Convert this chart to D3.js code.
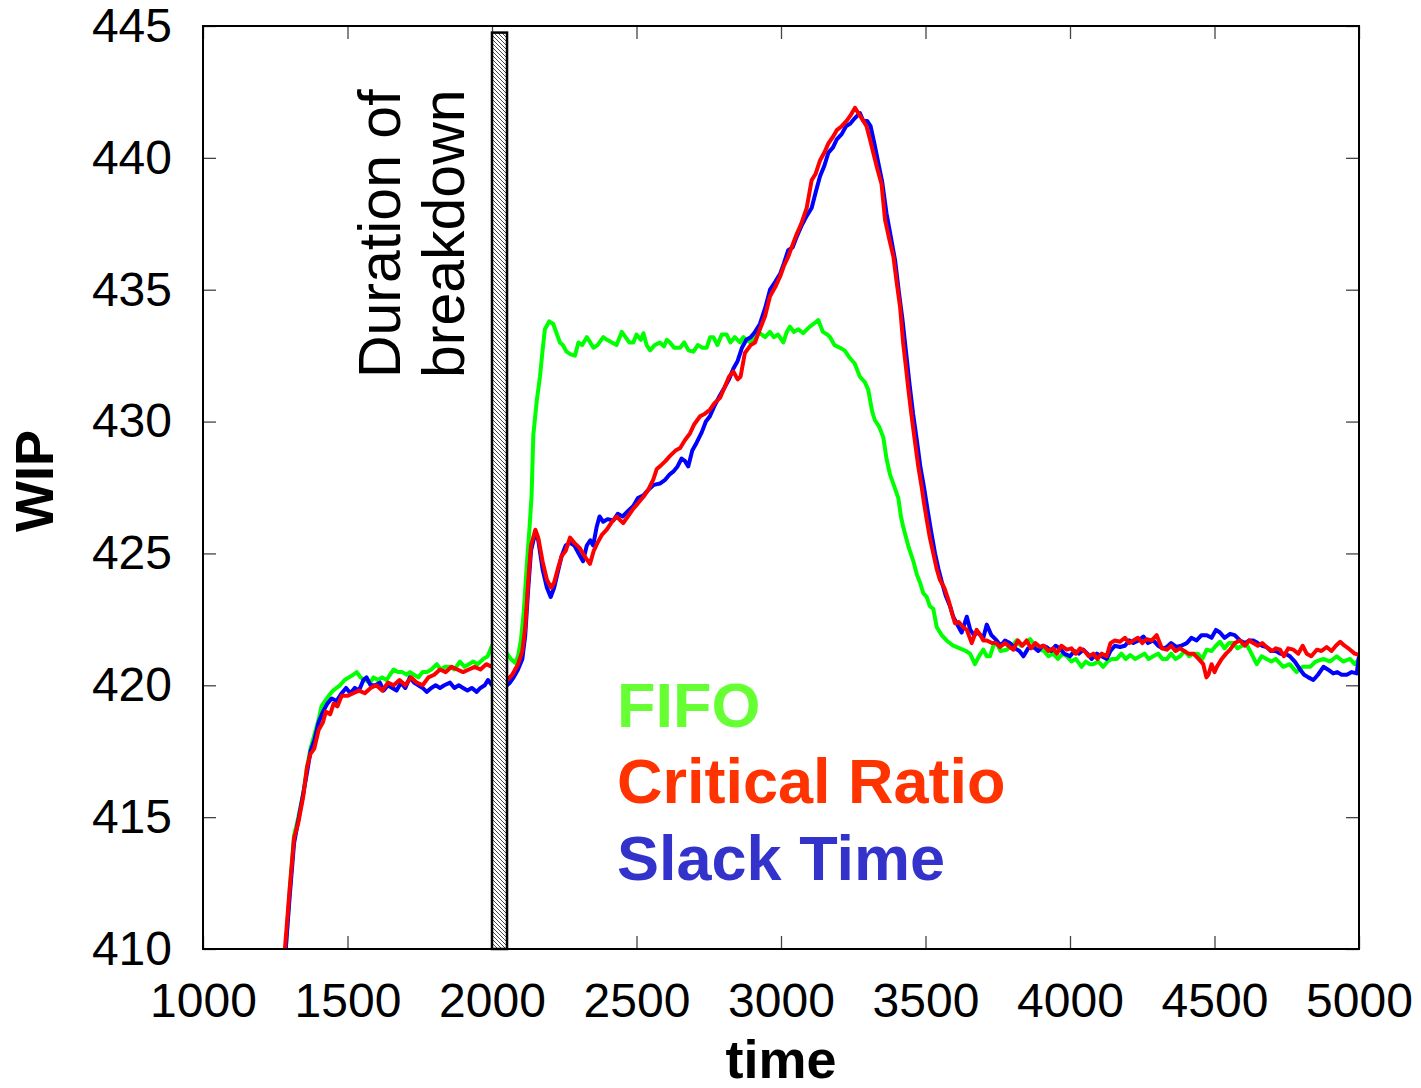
<!DOCTYPE html>
<head>
  <meta charset="utf-8">
  <title>WIP over time</title>
  <script src="https://d3js.org/d3.v7.min.js"></script>
  <style>
    body { margin: 0; background: #fff; }
    text { font-family: "Liberation Sans", Arial, Helvetica, sans-serif; }
  </style>
</head>
<body>
<div id="chart"></div>
<script>
// axis ticks
var xTicks = [1000, 1500, 2000, 2500, 3000, 3500, 4000, 4500, 5000];
var yTicks = [410, 415, 420, 425, 430, 435, 440, 445];

// breakdown interval
var breakdown = [2000, 2052];
var breakdownTop = 444.75;

// series, [time, WIP]
var fifo = [
  [1285,409.8],[1300,412.2],[1315,414.3],[1330,415.0],[1347,415.9],[1360,416.9],[1372,417.6],[1385,418.1],
  [1400,418.7],[1410,419.2],[1422,419.4],[1435,419.6],[1450,419.8],[1462,419.9],[1474,420.0],[1490,420.2],
  [1505,420.3],[1520,420.4],[1532,420.5],[1545,420.3],[1560,420.2],[1578,420.1],[1590,420.3],[1605,420.2],
  [1620,420.3],[1635,420.2],[1647,420.4],[1660,420.6],[1675,420.5],[1690,420.5],[1705,420.4],[1716,420.5],
  [1730,420.4],[1745,420.3],[1760,420.5],[1775,420.5],[1790,420.6],[1809,420.8],[1822,420.6],[1838,420.7],
  [1855,420.7],[1870,420.6],[1889,420.9],[1905,420.7],[1920,420.8],[1935,420.9],[1950,420.8],[1970,421.0],
  [1985,421.1],[2000,421.5],[2052,421.2],[2065,421.0],[2080,420.85],[2090,421.1],[2100,421.7],[2110,422.8],
  [2120,424.5],[2130,426.0],[2137,427.2],[2143,429.5],[2155,430.8],[2166,431.7],[2175,432.7],[2183,433.5],
  [2198,433.8],[2212,433.7],[2225,433.3],[2235,433.0],[2245,432.9],[2258,432.65],[2272,432.55],[2287,432.5],
  [2299,433.0],[2312,432.9],[2328,433.2],[2340,433.0],[2351,432.8],[2365,432.9],[2385,433.2],[2398,433.1],
  [2415,433.0],[2431,432.9],[2449,433.4],[2462,433.2],[2475,433.0],[2489,433.0],[2500,433.3],[2515,433.1],
  [2524,433.35],[2535,432.9],[2547,432.7],[2563,432.9],[2581,433.0],[2595,432.85],[2605,433.1],[2616,433.0],
  [2630,432.8],[2651,432.8],[2665,433.0],[2680,432.7],[2697,432.65],[2712,432.9],[2728,432.8],[2743,432.8],
  [2755,433.2],[2766,433.2],[2780,432.9],[2795,433.3],[2812,433.3],[2825,433.0],[2840,433.2],[2858,433.0],
  [2870,433.2],[2881,433.1],[2895,433.0],[2910,433.3],[2927,433.35],[2945,433.2],[2962,433.4],[2975,433.2],
  [2990,433.3],[3008,433.0],[3020,433.4],[3031,433.6],[3045,433.4],[3060,433.5],[3077,433.35],[3090,433.5],
  [3100,433.6],[3112,433.7],[3129,433.85],[3145,433.4],[3160,433.3],[3170,433.2],[3185,432.9],[3204,432.8],
  [3220,432.7],[3239,432.4],[3255,432.2],[3273,431.7],[3290,431.5],[3302,431.2],[3315,430.4],[3325,430.05],
  [3340,429.8],[3354,429.4],[3365,428.6],[3377,428.0],[3390,427.6],[3406,427.1],[3415,426.4],[3423,426.0],
  [3440,425.3],[3458,424.7],[3470,424.2],[3481,423.9],[3492,423.5],[3504,423.35],[3515,423.0],[3527,422.9],
  [3539,422.2],[3556,421.9],[3573,421.7],[3596,421.5],[3619,421.4],[3640,421.3],[3654,421.2],[3671,420.8],
  [3685,421.1],[3700,421.35],[3712,421.1],[3723,421.1],[3735,421.5],[3746,421.6],[3760,421.3],[3781,421.35],
  [3800,421.5],[3815,421.7],[3830,421.5],[3846,421.6],[3862,421.75],[3880,421.5],[3896,421.35],[3910,421.3],
  [3925,421.1],[3942,421.2],[3958,421.0],[3975,421.2],[3989,421.1],[4005,420.9],[4020,421.0],[4040,420.7],
  [4055,420.9],[4068,420.8],[4081,420.8],[4098,420.9],[4115,420.7],[4130,420.9],[4145,421.0],[4162,421.0],
  [4178,421.2],[4193,421.0],[4208,421.15],[4225,421.0],[4242,421.1],[4258,421.2],[4272,421.0],[4288,421.1],
  [4305,421.2],[4320,421.0],[4335,421.0],[4350,421.2],[4365,421.0],[4381,421.1],[4397,421.3],[4412,421.1],
  [4427,421.2],[4442,421.2],[4458,421.0],[4473,421.35],[4490,421.3],[4505,421.5],[4519,421.65],[4535,421.4],
  [4550,421.6],[4565,421.6],[4580,421.4],[4595,421.5],[4611,421.55],[4628,421.2],[4646,420.8],[4663,421.1],
  [4680,421.0],[4697,420.9],[4712,421.0],[4738,420.7],[4760,420.8],[4784,420.5],[4805,420.7],[4831,420.7],
  [4850,420.9],[4877,421.0],[4900,420.9],[4923,421.1],[4945,420.9],[4969,421.0],[4985,420.8],[5000,421.0]
];

var criticalRatio = [
  [1282,409.8],[1300,412.3],[1315,414.2],[1330,414.8],[1347,415.8],[1360,416.9],[1372,417.4],[1385,417.6],
  [1400,418.3],[1415,418.6],[1425,419.0],[1440,418.9],[1452,419.3],[1465,419.2],[1480,419.6],[1500,419.6],
  [1520,419.7],[1540,419.8],[1560,419.7],[1580,419.9],[1600,420.0],[1620,419.8],[1640,420.1],[1660,420.0],
  [1680,420.2],[1700,420.0],[1720,420.3],[1740,420.1],[1760,420.0],[1780,420.3],[1800,420.4],[1820,420.6],
  [1840,420.5],[1860,420.7],[1880,420.6],[1900,420.5],[1920,420.6],[1940,420.7],[1960,420.6],[1980,420.8],
  [2000,420.7],[2052,420.2],[2070,420.4],[2090,420.8],[2105,421.3],[2115,422.2],[2125,423.9],[2135,425.3],
  [2150,425.9],[2160,425.6],[2175,424.7],[2190,424.0],[2205,423.7],[2215,423.9],[2230,424.5],[2241,424.9],
  [2255,425.1],[2270,425.6],[2285,425.4],[2304,425.2],[2320,424.9],[2339,424.6],[2352,425.1],[2365,425.4],
  [2380,425.7],[2397,425.9],[2415,426.2],[2431,426.4],[2454,426.15],[2470,426.4],[2489,426.7],[2505,426.9],
  [2524,427.15],[2540,427.4],[2558,427.8],[2570,428.2],[2581,428.3],[2600,428.5],[2616,428.7],[2635,428.9],
  [2651,429.0],[2668,429.3],[2685,429.55],[2700,429.9],[2720,430.2],[2737,430.3],[2754,430.45],[2770,430.7],
  [2789,430.9],[2805,431.3],[2820,431.7],[2835,431.9],[2850,431.6],[2860,431.7],[2875,432.6],[2895,432.9],
  [2910,433.0],[2927,433.5],[2945,434.0],[2962,434.75],[2980,435.1],[2997,435.5],[3010,435.9],[3025,436.25],
  [3040,436.7],[3054,437.1],[3070,437.5],[3089,438.1],[3106,439.15],[3120,439.4],[3135,439.9],[3150,440.2],
  [3164,440.55],[3180,440.8],[3193,441.05],[3210,441.2],[3227,441.4],[3240,441.6],[3256,441.9],[3273,441.6],
  [3285,441.4],[3296,441.2],[3308,440.7],[3319,440.2],[3333,439.6],[3348,439.0],[3360,437.65],[3375,436.9],
  [3389,436.25],[3400,435.3],[3412,434.35],[3423,432.95],[3432,432.1],[3441,431.2],[3452,430.2],[3464,429.2],
  [3475,428.3],[3487,427.5],[3495,426.9],[3504,426.3],[3515,425.6],[3527,425.0],[3539,424.4],[3550,424.0],
  [3565,423.7],[3579,423.25],[3590,422.8],[3602,422.35],[3615,422.4],[3631,422.2],[3643,422.1],[3660,421.6],
  [3677,422.1],[3690,421.9],[3700,421.7],[3712,421.7],[3730,421.6],[3745,421.6],[3758,421.45],[3775,421.6],
  [3792,421.45],[3804,421.35],[3820,421.7],[3835,421.5],[3850,421.7],[3865,421.4],[3880,421.6],[3896,421.45],
  [3910,421.5],[3925,421.3],[3942,421.4],[3955,421.2],[3970,421.5],[3989,421.35],[4005,421.4],[4020,421.2],
  [4035,421.4],[4050,421.3],[4065,421.1],[4081,421.2],[4095,421.0],[4110,421.2],[4127,421.1],[4140,421.6],
  [4155,421.7],[4173,421.65],[4190,421.8],[4205,421.6],[4219,421.7],[4235,421.8],[4250,421.6],[4265,421.75],
  [4283,421.7],[4300,421.9],[4318,421.4],[4335,421.35],[4350,421.5],[4365,421.3],[4381,421.4],[4395,421.3],
  [4410,421.2],[4427,421.2],[4445,421.0],[4461,420.8],[4472,420.3],[4479,420.4],[4490,420.8],[4500,420.5],
  [4508,420.7],[4525,421.0],[4540,421.2],[4554,421.35],[4570,421.6],[4588,421.7],[4605,421.5],[4620,421.7],
  [4634,421.6],[4650,421.5],[4665,421.6],[4680,421.45],[4700,421.3],[4712,421.4],[4727,421.35],[4740,421.1],
  [4755,421.4],[4773,421.35],[4790,421.2],[4805,421.5],[4819,421.2],[4835,421.1],[4854,421.35],[4870,421.3],
  [4888,421.45],[4905,421.3],[4920,421.5],[4935,421.65],[4950,421.5],[4969,421.35],[4985,421.2],[5000,421.15]
];

var slackTime = [
  [1285,409.8],[1300,412.0],[1315,414.0],[1330,414.9],[1347,415.9],[1360,416.7],[1372,417.5],[1385,417.9],
  [1400,418.6],[1415,419.0],[1430,419.3],[1445,419.5],[1462,419.4],[1480,419.7],[1495,419.9],[1510,419.7],
  [1525,419.9],[1540,419.8],[1555,420.2],[1566,420.3],[1580,420.0],[1595,420.0],[1612,420.1],[1625,419.8],
  [1640,420.0],[1655,419.9],[1670,419.8],[1685,420.1],[1700,419.9],[1716,420.3],[1730,420.1],[1745,420.0],
  [1760,419.9],[1774,419.75],[1790,419.9],[1805,420.0],[1820,419.9],[1835,420.0],[1855,420.1],[1870,419.9],
  [1885,420.0],[1900,419.9],[1915,419.8],[1930,419.9],[1947,419.75],[1960,419.9],[1975,420.0],[1986,420.2],
  [2000,420.0],[2052,420.0],[2062,420.1],[2075,420.3],[2090,420.6],[2105,421.0],[2115,421.9],[2125,423.6],
  [2135,425.1],[2150,425.8],[2160,425.5],[2175,424.4],[2190,423.7],[2203,423.35],[2215,423.7],[2230,424.4],
  [2241,424.9],[2255,425.3],[2270,425.4],[2285,425.3],[2300,425.0],[2315,424.7],[2328,425.3],[2340,425.5],
  [2350,425.3],[2362,426.0],[2372,426.4],[2385,426.2],[2400,426.3],[2420,426.25],[2435,426.5],[2452,426.4],
  [2470,426.6],[2489,426.8],[2505,427.1],[2524,427.2],[2540,427.4],[2560,427.6],[2581,427.65],[2600,427.8],
  [2615,428.0],[2627,428.1],[2642,428.3],[2656,428.6],[2668,428.5],[2679,428.3],[2693,428.9],[2708,429.2],
  [2726,429.6],[2740,430.0],[2754,430.2],[2770,430.6],[2789,431.0],[2805,431.3],[2820,431.6],[2835,432.0],
  [2850,432.3],[2865,432.8],[2880,433.1],[2895,433.2],[2910,433.4],[2927,433.7],[2945,434.3],[2962,435.0],
  [2980,435.3],[2997,435.6],[3010,436.0],[3025,436.5],[3040,436.6],[3054,437.0],[3070,437.4],[3089,437.8],
  [3106,438.1],[3120,438.7],[3135,439.3],[3150,439.7],[3164,440.2],[3180,440.4],[3193,440.7],[3210,440.9],
  [3225,441.2],[3240,441.3],[3255,441.5],[3273,441.7],[3285,441.4],[3298,441.4],[3310,441.2],[3322,440.6],
  [3335,439.9],[3350,439.1],[3365,437.9],[3380,437.0],[3395,436.1],[3408,434.9],[3420,433.9],[3432,432.7],
  [3445,431.4],[3457,430.3],[3470,429.3],[3482,428.3],[3495,427.5],[3508,426.6],[3520,425.8],[3533,425.0],
  [3545,424.4],[3557,423.9],[3570,423.4],[3585,423.0],[3596,422.6],[3610,422.3],[3625,422.0],[3643,422.6],
  [3655,422.1],[3668,421.9],[3680,422.0],[3700,421.8],[3712,422.3],[3728,421.9],[3746,421.7],[3760,421.5],
  [3775,421.7],[3792,421.6],[3810,421.4],[3825,421.3],[3839,421.1],[3855,421.4],[3873,421.45],[3890,421.3],
  [3905,421.5],[3919,421.45],[3935,421.3],[3950,421.5],[3965,421.4],[3980,421.2],[4000,421.1],[4015,421.3],
  [4030,421.2],[4046,421.35],[4060,421.2],[4075,421.0],[4093,421.2],[4110,421.1],[4127,421.0],[4140,421.3],
  [4155,421.5],[4173,421.45],[4190,421.5],[4205,421.7],[4219,421.6],[4237,421.7],[4254,421.85],[4270,421.6],
  [4288,421.7],[4305,421.5],[4320,421.4],[4335,421.45],[4350,421.6],[4369,421.45],[4385,421.5],[4404,421.6],
  [4420,421.8],[4438,421.7],[4455,421.9],[4473,421.9],[4490,421.8],[4505,422.1],[4519,422.0],[4535,421.8],
  [4554,421.95],[4570,421.9],[4588,421.7],[4605,421.6],[4620,421.7],[4634,421.7],[4650,421.6],[4665,421.5],
  [4680,421.45],[4695,421.3],[4712,421.3],[4727,421.2],[4745,421.2],[4761,421.1],[4778,420.9],[4796,420.6],
  [4810,420.4],[4825,420.3],[4842,420.2],[4858,420.4],[4877,420.7],[4892,420.6],[4911,420.45],[4925,420.5],
  [4940,420.4],[4958,420.4],[4975,420.5],[4992,420.45],[5000,421.1]
];

var seriesNames = ["FIFO", "Critical Ratio", "Slack Time"];
var lineColors = ["#00ff00", "#ff0000", "#0000ff"];
var labelColors = ["#66ff33", "#ff3300", "#3333cc"];

// set the dimensions and margins of the graph
var margin = {top: 26, right: 62, bottom: 139, left: 203};
var width = 1421 - margin.left - margin.right;
var height = 1088 - margin.top - margin.bottom;

var svgRoot = d3.select("#chart")
  .append("svg")
    .attr("width", 1421)
    .attr("height", 1088);

var defs = svgRoot.append("defs");
defs.append("clipPath").attr("id", "plotclip")
  .append("rect").attr("width", width).attr("height", height);

// hatch for the breakdown bar
var hatch = defs.append("pattern")
  .attr("id", "hatch")
  .attr("patternUnits", "userSpaceOnUse")
  .attr("width", 4).attr("height", 4);
hatch.append("rect").attr("width", 4).attr("height", 4).attr("fill", "#fff");
hatch.append("path")
  .attr("d", "M-1,-1 L5,5 M-1,3 L1,5 M3,-1 L5,1")
  .attr("stroke", "#333")
  .attr("stroke-width", 0.9);

var svg = svgRoot.append("g")
  .attr("transform", "translate(" + margin.left + "," + margin.top + ")");

var x = d3.scaleLinear().domain([1000, 5000]).range([0, width]);
var y = d3.scaleLinear().domain([410, 445]).range([height, 0]);

// axes: ticks point inward on all four sides
svg.append("g")
  .attr("class", "axis")
  .attr("transform", "translate(0," + height + ")")
  .call(d3.axisBottom(x).tickValues(xTicks).tickFormat(d3.format("d"))
    .tickSizeInner(-13).tickSizeOuter(0).tickPadding(34));
svg.append("g")
  .attr("class", "axis")
  .call(d3.axisLeft(y).tickValues(yTicks).tickFormat(d3.format("d"))
    .tickSizeInner(-13).tickSizeOuter(0).tickPadding(31));
svg.append("g")
  .attr("class", "axis")
  .call(d3.axisTop(x).tickValues(xTicks).tickSizeInner(-13).tickSizeOuter(0).tickFormat(""));
svg.append("g")
  .attr("class", "axis")
  .attr("transform", "translate(" + width + ",0)")
  .call(d3.axisRight(y).tickValues(yTicks).tickSizeInner(-13).tickSizeOuter(0).tickFormat(""));

svg.selectAll(".axis .domain").remove();
svg.selectAll(".axis line").attr("stroke", "#444").attr("stroke-width", 1.3);
svg.selectAll(".axis text")
  .attr("fill", "#000")
  .style("font-size", "48px")
  .style("font-family", "'Liberation Sans', Arial, sans-serif");

// lines
var line = d3.line()
  .x(function(d) { return x(d[0]); })
  .y(function(d) { return y(d[1]); });

var lines = svg.append("g").attr("clip-path", "url(#plotclip)");
[fifo, slackTime, criticalRatio].forEach(function(data) {
  var idx = data === fifo ? 0 : (data === criticalRatio ? 1 : 2);
  lines.append("path")
    .datum(data)
    .attr("d", line)
    .attr("fill", "none")
    .attr("stroke", lineColors[idx])
    .attr("stroke-width", 4)
    .attr("stroke-linejoin", "round");
});

// breakdown bar
svg.append("rect")
  .attr("x", x(breakdown[0]))
  .attr("y", y(breakdownTop))
  .attr("width", x(breakdown[1]) - x(breakdown[0]))
  .attr("height", y(410) - y(breakdownTop))
  .attr("fill", "url(#hatch)")
  .attr("stroke", "#000")
  .attr("stroke-width", 2.5);

// annotation, reads bottom to top left of the bar
var noteY = y(431.65);
svg.append("text")
  .attr("transform", "translate(" + (x(breakdown[0]) - 92) + "," + noteY + ") rotate(-90)")
  .style("font-size", "59px")
  .attr("fill", "#000")
  .text("Duration of");
svg.append("text")
  .attr("transform", "translate(" + (x(breakdown[0]) - 28) + "," + noteY + ") rotate(-90)")
  .style("font-size", "59px")
  .attr("fill", "#000")
  .text("breakdown");

// frame
svg.append("rect")
  .attr("width", width)
  .attr("height", height)
  .attr("fill", "none")
  .attr("stroke", "#000")
  .attr("stroke-width", 2);

// axis titles
svgRoot.append("text")
  .attr("x", 781)
  .attr("y", 1078)
  .attr("text-anchor", "middle")
  .style("font-size", "54px")
  .style("font-weight", "bold")
  .text("time");
svgRoot.append("text")
  .attr("transform", "translate(53,481) rotate(-90)")
  .attr("text-anchor", "middle")
  .style("font-size", "54px")
  .style("font-weight", "bold")
  .text("WIP");

// legend labels
var legendY = [727, 803, 880];
seriesNames.forEach(function(name, i) {
  svgRoot.append("text")
    .attr("x", 617)
    .attr("y", legendY[i])
    .attr("fill", labelColors[i])
    .style("font-size", "63px")
    .style("font-weight", "bold")
    .text(name);
});
</script>
</body>
